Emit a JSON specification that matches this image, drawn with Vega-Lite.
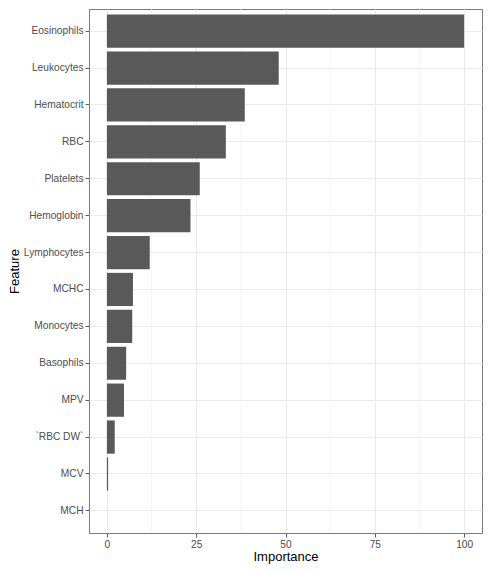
{
  "$schema": "https://vega.github.io/schema/vega-lite/v6.json",
  "width": 393,
  "height": 524,
  "autosize": {"type": "none"},
  "padding": {"left": 89, "top": 9, "right": 11, "bottom": 40},
  "background": "white",
  "config": {
    "font": "Liberation Sans",
    "view": {"stroke": "#7a7a7a", "strokeWidth": 1}
  },
  "datasets": {
    "imp": [
      {"Feature": "Eosinophils", "Importance": 100},
      {"Feature": "Leukocytes", "Importance": 48.1},
      {"Feature": "Hematocrit", "Importance": 38.6},
      {"Feature": "RBC", "Importance": 33.3},
      {"Feature": "Platelets", "Importance": 26.0},
      {"Feature": "Hemoglobin", "Importance": 23.4},
      {"Feature": "Lymphocytes", "Importance": 12.0},
      {"Feature": "MCHC", "Importance": 7.3},
      {"Feature": "Monocytes", "Importance": 7.1},
      {"Feature": "Basophils", "Importance": 5.4},
      {"Feature": "MPV", "Importance": 4.8},
      {"Feature": "`RBC DW`", "Importance": 2.2},
      {"Feature": "MCV", "Importance": 0.35},
      {"Feature": "MCH", "Importance": 0}
    ],
    "minor": [{"v": 12.5}, {"v": 37.5}, {"v": 62.5}, {"v": 87.5}]
  },
  "layer": [
    {
      "data": {"name": "minor"},
      "mark": {"type": "rule", "color": "#f2f2f2", "strokeWidth": 0.7},
      "encoding": {
        "x": {
          "field": "v",
          "type": "quantitative",
          "scale": {"domain": [-5, 105], "nice": false, "zero": false},
          "axis": {
            "title": "Importance",
            "values": [0, 25, 50, 75, 100],
            "titleFontSize": 13,
            "titleFontWeight": "normal",
            "titleColor": "#000000",
            "titlePadding": 1,
            "labelFontSize": 10.2,
            "labelColor": "#4d4d4d",
            "labelPadding": 2,
            "tickSize": 4,
            "tickColor": "#333333",
            "tickWidth": 0.8,
            "domain": false,
            "grid": true,
            "gridColor": "#ebebeb",
            "gridWidth": 1
          }
        }
      }
    },
    {
      "data": {"name": "imp"},
      "mark": {"type": "bar", "color": "#595959"},
      "encoding": {
        "y": {
          "field": "Feature",
          "type": "nominal",
          "sort": {"field": "Importance", "order": "descending"},
          "scale": {"paddingInner": 0.1, "paddingOuter": 0.15},
          "axis": {
            "title": "Feature",
            "titleFontSize": 13,
            "titleFontWeight": "normal",
            "titleColor": "#000000",
            "titleX": -75,
            "titleY": 262,
            "titleAngle": -90,
            "titleAlign": "center",
            "titleBaseline": "middle",
            "labelFontSize": 10.2,
            "labelColor": "#4d4d4d",
            "labelPadding": 2,
            "tickSize": 4,
            "tickColor": "#333333",
            "tickWidth": 0.8,
            "domain": false,
            "grid": true,
            "gridColor": "#ebebeb",
            "gridWidth": 1,
            "bandPosition": 0.5
          }
        },
        "x": {
          "field": "Importance",
          "type": "quantitative",
          "scale": {"domain": [-5, 105], "nice": false, "zero": false},
          "axis": {
            "title": "Importance",
            "values": [0, 25, 50, 75, 100],
            "titleFontSize": 13,
            "titleFontWeight": "normal",
            "titleColor": "#000000",
            "titlePadding": 1,
            "labelFontSize": 10.2,
            "labelColor": "#4d4d4d",
            "labelPadding": 2,
            "tickSize": 4,
            "tickColor": "#333333",
            "tickWidth": 0.8,
            "domain": false,
            "grid": true,
            "gridColor": "#ebebeb",
            "gridWidth": 1
          }
        }
      }
    }
  ]
}
